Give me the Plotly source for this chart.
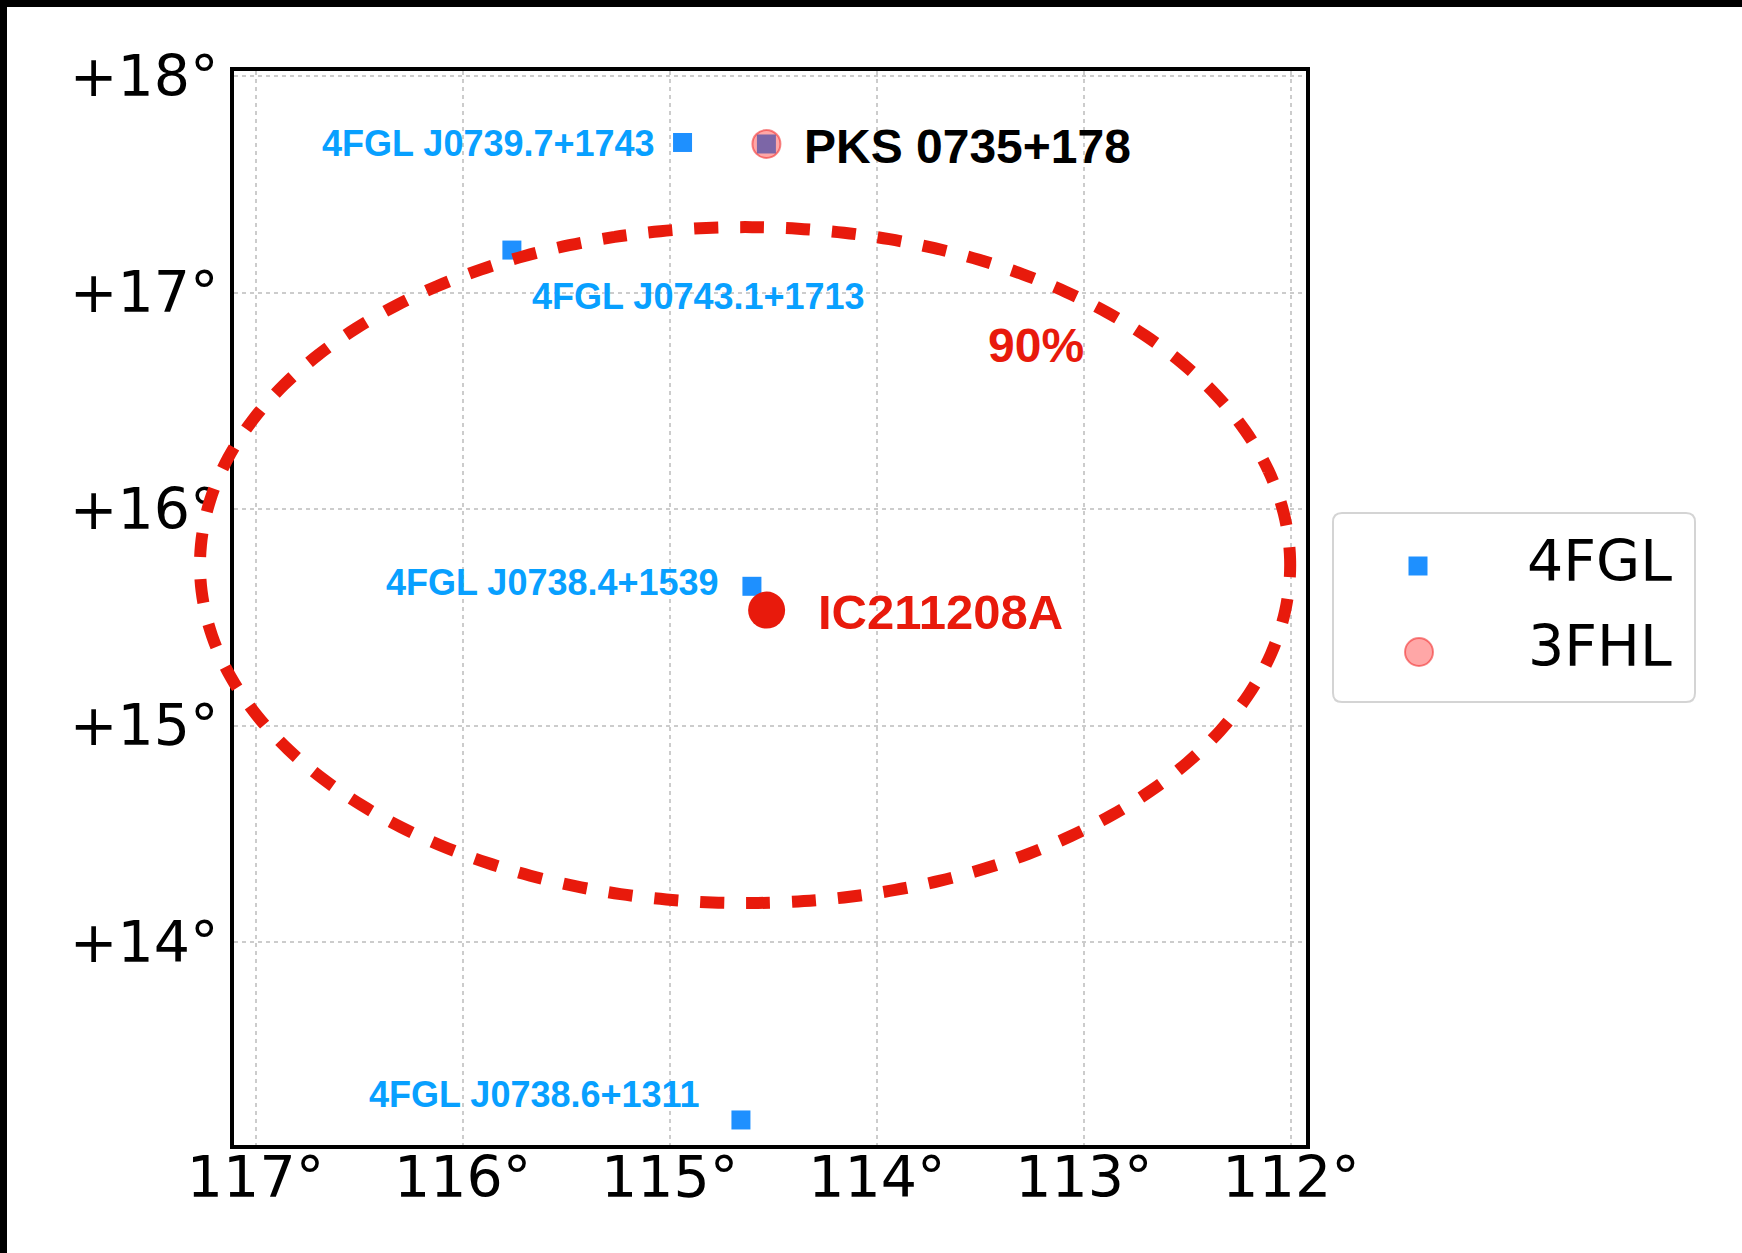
import plotly.graph_objects as go

# ---------------------------------------------------------------------------
# Source catalogue (RA / Dec in degrees)
# ---------------------------------------------------------------------------
fgl_names = ["4FGL J0739.7+1743", "4FGL J0738.1+1742", "4FGL J0743.1+1713",
             "4FGL J0738.4+1539", "4FGL J0738.6+1311"]
fgl_ra = [114.938, 114.533, 115.762, 114.603, 114.656]
fgl_dec = [17.693, 17.686, 17.196, 15.643, 13.178]
# which 4FGL names get a text label next to the marker
fgl_labelled = [True, False, True, True, True]

fhl_names = ["PKS 0735+178"]
fhl_ra = [114.533]
fhl_dec = [17.686]

nu_name = "IC211208A"
nu_ra = [114.532]
nu_dec = [15.533]

# 90% containment region of the neutrino (RA / Dec extent)
err90_ra = [112.004, 117.268]
err90_dec = [14.180, 17.302]
err90_label = "90%"

ra_ticks = [117, 116, 115, 114, 113, 112]
dec_ticks = [14, 15, 16, 17, 18]
ra_ticktext = ["117°", "116°", "115°", "114°", "113°", "112°"]
dec_ticktext = ["+14°", "+15°", "+16°", "+17°", "+18°"]

# ---------------------------------------------------------------------------
# Styling
# ---------------------------------------------------------------------------
W, H = 1742, 1253
M_L, M_R, M_T, M_B = 180, 436, 71, 108
PW = W - M_L - M_R          # paper width in px
PH = H - M_T - M_B          # paper height in px
FRAME_PAD = 54              # extra room left of the frame for the contour

x_range = [117.1038, 111.9276]
y_range = [13.0624, 18.0231]
px_per_deg = (PW - FRAME_PAD) / (x_range[0] - x_range[1])
x2_range = [x_range[0] + FRAME_PAD / px_per_deg, x_range[1]]

BLUE_MK = "#1e90ff"
BLUE_TX = "#08a0ff"
RED = "#e81a0c"
FHL_FILL = "rgba(255,45,45,0.42)"
FHL_EDGE = "rgba(240,40,40,0.55)"
TICK_FONT = dict(family="DejaVu Sans", size=57, color="black")
LABEL_FAMILY = "Liberation Sans, Arial, Helvetica, sans-serif"


def paper_x(px):
    return (px - M_L) / PW


def paper_y(py):
    return (H - M_B - py) / PH


fig = go.Figure()

# 4FGL sources
fig.add_trace(go.Scatter(
    x=fgl_ra, y=fgl_dec, mode="markers", name="4FGL", text=fgl_names,
    marker=dict(symbol="square", size=19, color=BLUE_MK, line=dict(width=0)),
    showlegend=False, hoverinfo="text"))

# 3FHL sources
fig.add_trace(go.Scatter(
    x=fhl_ra, y=fhl_dec, mode="markers", name="3FHL", text=fhl_names,
    marker=dict(symbol="circle", size=28, color=FHL_FILL,
                line=dict(width=2, color=FHL_EDGE)),
    showlegend=False, hoverinfo="text"))

# neutrino best-fit position
fig.add_trace(go.Scatter(
    x=nu_ra, y=nu_dec, mode="markers", name=nu_name,
    marker=dict(symbol="circle", size=37, color=RED, line=dict(width=0)),
    showlegend=False, hoverinfo="name"))

# empty trace that creates the wider overlay subplot used by the contour
fig.add_trace(go.Scatter(x=[], y=[], xaxis="x2", yaxis="y2",
                         showlegend=False, hoverinfo="skip"))

# 90% error contour
fig.add_shape(type="circle", xref="x2", yref="y2",
              x0=err90_ra[1], x1=err90_ra[0], y0=err90_dec[0], y1=err90_dec[1],
              line=dict(color=RED, width=12, dash="12px,22px,12px,0px"),
              fillcolor="rgba(0,0,0,0)", layer="above")

# source labels (pixel offsets from their markers)
fgl_label_style = [("right", -27.6, -1.5), None, ("left", 20, -46),
                   ("right", -33, 3.8), ("right", -41, 25)]
for name, ra, dec, show, style in zip(fgl_names, fgl_ra, fgl_dec,
                                      fgl_labelled, fgl_label_style):
    if not show:
        continue
    anchor, dx, dy = style
    fig.add_annotation(x=ra, y=dec, xref="x", yref="y", text=name,
                       showarrow=False, xanchor=anchor, yanchor="middle",
                       xshift=dx, yshift=dy, borderpad=0, borderwidth=0,
                       font=dict(family=LABEL_FAMILY, size=36, color=BLUE_TX,
                                 weight="bold"))

fig.add_annotation(x=fhl_ra[0], y=fhl_dec[0], xref="x", yref="y",
                   text=fhl_names[0], showarrow=False, xanchor="left",
                   yanchor="middle", xshift=37, yshift=-2.7, borderpad=0,
                   font=dict(family=LABEL_FAMILY, size=48, color="black",
                             weight="bold"))

fig.add_annotation(x=nu_ra[0], y=nu_dec[0], xref="x", yref="y",
                   text=nu_name, showarrow=False, xanchor="left",
                   yanchor="middle", xshift=50, yshift=-1.5, borderpad=0,
                   font=dict(family=LABEL_FAMILY, size=49, color=RED,
                             weight="bold"))

fig.add_annotation(x=113.468, y=16.754, xref="x", yref="y",
                   text=err90_label, showarrow=False, xanchor="left",
                   yanchor="middle", borderpad=0,
                   font=dict(family=LABEL_FAMILY, size=48, color=RED,
                             weight="bold"))

# ---------------------------------------------------------------------------
# Legend box (drawn by hand for the wide symbol/text spacing)
# ---------------------------------------------------------------------------
lx0, lx1, ly0, ly1, rad = 1333, 1695, 513, 702, 9
xs = [paper_x(v) for v in (lx0, lx0 + rad, lx1 - rad, lx1)]
ys = [paper_y(v) for v in (ly0, ly0 + rad, ly1 - rad, ly1)]
path = (f"M{xs[1]},{ys[0]} L{xs[2]},{ys[0]} Q{xs[3]},{ys[0]} {xs[3]},{ys[1]} "
        f"L{xs[3]},{ys[2]} Q{xs[3]},{ys[3]} {xs[2]},{ys[3]} "
        f"L{xs[1]},{ys[3]} Q{xs[0]},{ys[3]} {xs[0]},{ys[2]} "
        f"L{xs[0]},{ys[1]} Q{xs[0]},{ys[0]} {xs[1]},{ys[0]} Z")
fig.add_shape(type="path", path=path, xref="paper", yref="paper",
              line=dict(color="#d4d4d4", width=2), fillcolor="white",
              layer="above")
fig.add_shape(type="rect", xref="paper", yref="paper",
              x0=paper_x(1418 - 9.5), x1=paper_x(1418 + 9.5),
              y0=paper_y(566 + 9.5), y1=paper_y(566 - 9.5),
              line=dict(width=0), fillcolor=BLUE_MK, layer="above")
fig.add_shape(type="circle", xref="paper", yref="paper",
              x0=paper_x(1419 - 14), x1=paper_x(1419 + 14),
              y0=paper_y(652 + 14), y1=paper_y(652 - 14),
              line=dict(width=2, color=FHL_EDGE), fillcolor=FHL_FILL,
              layer="above")
for txt, yy in (("4FGL", 561), ("3FHL", 646)):
    fig.add_annotation(x=paper_x(1673), y=paper_y(yy), xref="paper",
                       yref="paper", text=txt, showarrow=False,
                       xanchor="right", yanchor="middle", borderpad=0,
                       font=dict(family="DejaVu Sans", size=57, color="black"))

# dark strips along the top and left edges of the canvas
fig.add_shape(type="rect", xref="paper", yref="paper",
              x0=paper_x(0), x1=paper_x(W), y0=paper_y(7), y1=paper_y(0),
              line=dict(width=0), fillcolor="black", layer="above")
fig.add_shape(type="rect", xref="paper", yref="paper",
              x0=paper_x(0), x1=paper_x(7), y0=paper_y(H), y1=paper_y(0),
              line=dict(width=0), fillcolor="black", layer="above")

axis_common = dict(
    showgrid=True, gridcolor="#cccccc", gridwidth=2, griddash="4px,4px",
    showline=True, mirror=True, linecolor="black", linewidth=4,
    ticks="", zeroline=False, tickfont=TICK_FONT,
)

fig.update_layout(
    width=W, height=H, autosize=False,
    margin=dict(l=M_L, r=M_R, t=M_T, b=M_B, pad=0),
    paper_bgcolor="white", plot_bgcolor="rgba(0,0,0,0)",
    showlegend=False,
    xaxis=dict(domain=[FRAME_PAD / PW, 1], range=x_range, anchor="y",
               tickmode="array", tickvals=ra_ticks, ticktext=ra_ticktext,
               ticklabelstandoff=-20, **axis_common),
    yaxis=dict(domain=[0, 1], range=y_range, anchor="x",
               tickmode="array", tickvals=dec_ticks, ticktext=dec_ticktext,
               ticklabelstandoff=0, **axis_common),
    xaxis2=dict(domain=[0, 1], range=x2_range, anchor="y2", visible=False,
                showgrid=False, zeroline=False),
    yaxis2=dict(domain=[0, 1], range=y_range, anchor="x2", visible=False,
                showgrid=False, zeroline=False),
)

fig.write_html("out.html")
